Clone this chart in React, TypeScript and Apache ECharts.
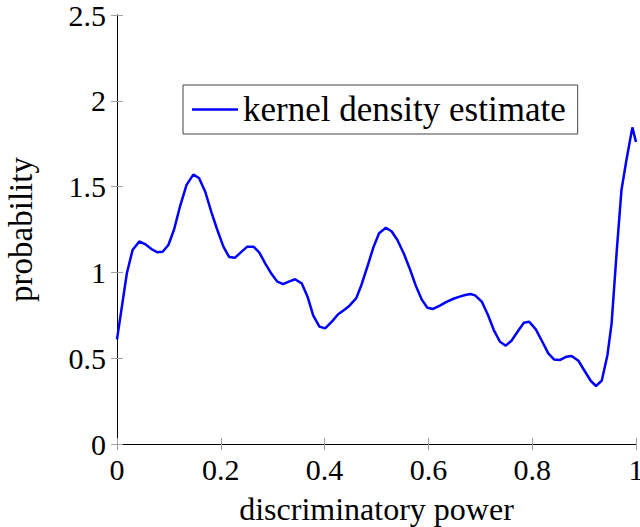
import React, { useEffect, useRef } from "react";
import * as echarts from "echarts";

const xValues = [0, 0.019, 0.030, 0.043, 0.054, 0.067, 0.078, 0.088, 0.099, 0.110, 0.121, 0.134, 0.147, 0.158, 0.170, 0.182, 0.193, 0.205, 0.216, 0.227, 0.238, 0.251, 0.263, 0.274, 0.286, 0.298, 0.309, 0.320, 0.331, 0.343, 0.356, 0.367, 0.378, 0.390, 0.401, 0.414, 0.426, 0.437, 0.448, 0.461, 0.471, 0.482, 0.494, 0.505, 0.518, 0.529, 0.540, 0.553, 0.565, 0.576, 0.587, 0.598, 0.609, 0.622, 0.634, 0.647, 0.660, 0.671, 0.681, 0.690, 0.703, 0.715, 0.726, 0.738, 0.749, 0.760, 0.773, 0.784, 0.794, 0.807, 0.820, 0.831, 0.842, 0.854, 0.866, 0.876, 0.889, 0.902, 0.913, 0.923, 0.934, 0.945, 0.953, 0.963, 0.972, 0.981, 0.993, 1.0];
const densityValues = [0.61, 0.995, 1.13, 1.18, 1.165, 1.135, 1.117, 1.12, 1.16, 1.25, 1.38, 1.51, 1.57, 1.55, 1.47, 1.35, 1.25, 1.15, 1.09, 1.085, 1.115, 1.15, 1.15, 1.117, 1.05, 0.99, 0.946, 0.932, 0.946, 0.96, 0.936, 0.86, 0.75, 0.684, 0.674, 0.713, 0.756, 0.78, 0.806, 0.85, 0.927, 1.03, 1.146, 1.228, 1.26, 1.24, 1.19, 1.107, 1.014, 0.92, 0.843, 0.794, 0.787, 0.806, 0.827, 0.845, 0.859, 0.868, 0.874, 0.866, 0.829, 0.75, 0.664, 0.596, 0.573, 0.602, 0.66, 0.707, 0.713, 0.668, 0.593, 0.528, 0.493, 0.49, 0.509, 0.513, 0.485, 0.421, 0.367, 0.338, 0.369, 0.519, 0.703, 1.13, 1.48, 1.645, 1.845, 1.76];
const seriesName = "kernel density estimate";
const xAxisName = "discriminatory power";
const yAxisName = "probability";

const FONT = "Liberation Serif";

export default function App() {
  const ref = useRef<HTMLDivElement>(null);
  useEffect(() => {
    document.body.style.margin = "0";
    if (!ref.current) return;
    const chart = echarts.init(ref.current, undefined, { renderer: "svg" });
    const data = xValues.map((x, i) => [x, densityValues[i]]);
    const tickStyle = { show: true, inside: true, length: 6, lineStyle: { color: "#a0a0a0", width: 1 } };
    const lineStyle = { show: true, lineStyle: { color: "#000", width: 1 } };
    chart.setOption({
      animation: false,
      backgroundColor: "#fff",
      grid: { left: 117, right: 4, top: 15, bottom: 83, containLabel: false, outerBoundsMode: "none" },
      legend: {
        show: true,
        left: 183,
        top: 85,
        orient: "horizontal",
        itemWidth: 46,
        itemHeight: 14,
        padding: [7, 12, 7, 9],
        borderColor: "#444",
        borderWidth: 1,
        backgroundColor: "#fff",
        textStyle: { fontFamily: FONT, fontSize: 35, color: "#000" },
        data: [{ name: seriesName, icon: "path://M0,0 L46,0 L46,2.5 L0,2.5 Z" }],
      },
      xAxis: [
        {
          type: "value",
          min: 0,
          max: 1,
          interval: 0.2,
          position: "bottom",
          name: xAxisName,
          nameLocation: "middle",
          nameGap: 49,
          nameTextStyle: { fontFamily: FONT, fontSize: 32, color: "#000" },
          axisLine: lineStyle,
          axisTick: tickStyle,
          splitLine: { show: false },
          axisLabel: { fontFamily: FONT, fontSize: 30, color: "#000", margin: 10 },
        },
        {
          type: "value",
          min: 0,
          max: 1,
          interval: 0.2,
          position: "top",
          axisLine: lineStyle,
          axisTick: tickStyle,
          splitLine: { show: false },
          axisLabel: { show: false },
        },
      ],
      yAxis: [
        {
          type: "value",
          min: 0,
          max: 2.5,
          interval: 0.5,
          position: "left",
          name: yAxisName,
          nameLocation: "middle",
          nameGap: 80,
          nameRotate: 90,
          nameTextStyle: { fontFamily: FONT, fontSize: 33, color: "#000" },
          axisLine: lineStyle,
          axisTick: tickStyle,
          splitLine: { show: false },
          axisLabel: { fontFamily: FONT, fontSize: 30, color: "#000", margin: 11 },
        },
        {
          type: "value",
          min: 0,
          max: 2.5,
          interval: 0.5,
          position: "right",
          axisLine: lineStyle,
          axisTick: tickStyle,
          splitLine: { show: false },
          axisLabel: { show: false },
        },
      ],
      series: [
        {
          name: seriesName,
          type: "line",
          data,
          showSymbol: false,
          symbol: "none",
          smooth: false,
          lineStyle: { color: "#0000ff", width: 2.5 },
          itemStyle: { color: "#0000ff" },
        },
      ],
    });
    return () => chart.dispose();
  }, []);
  return <div ref={ref} style={{ width: 640, height: 527 }} />;
}
